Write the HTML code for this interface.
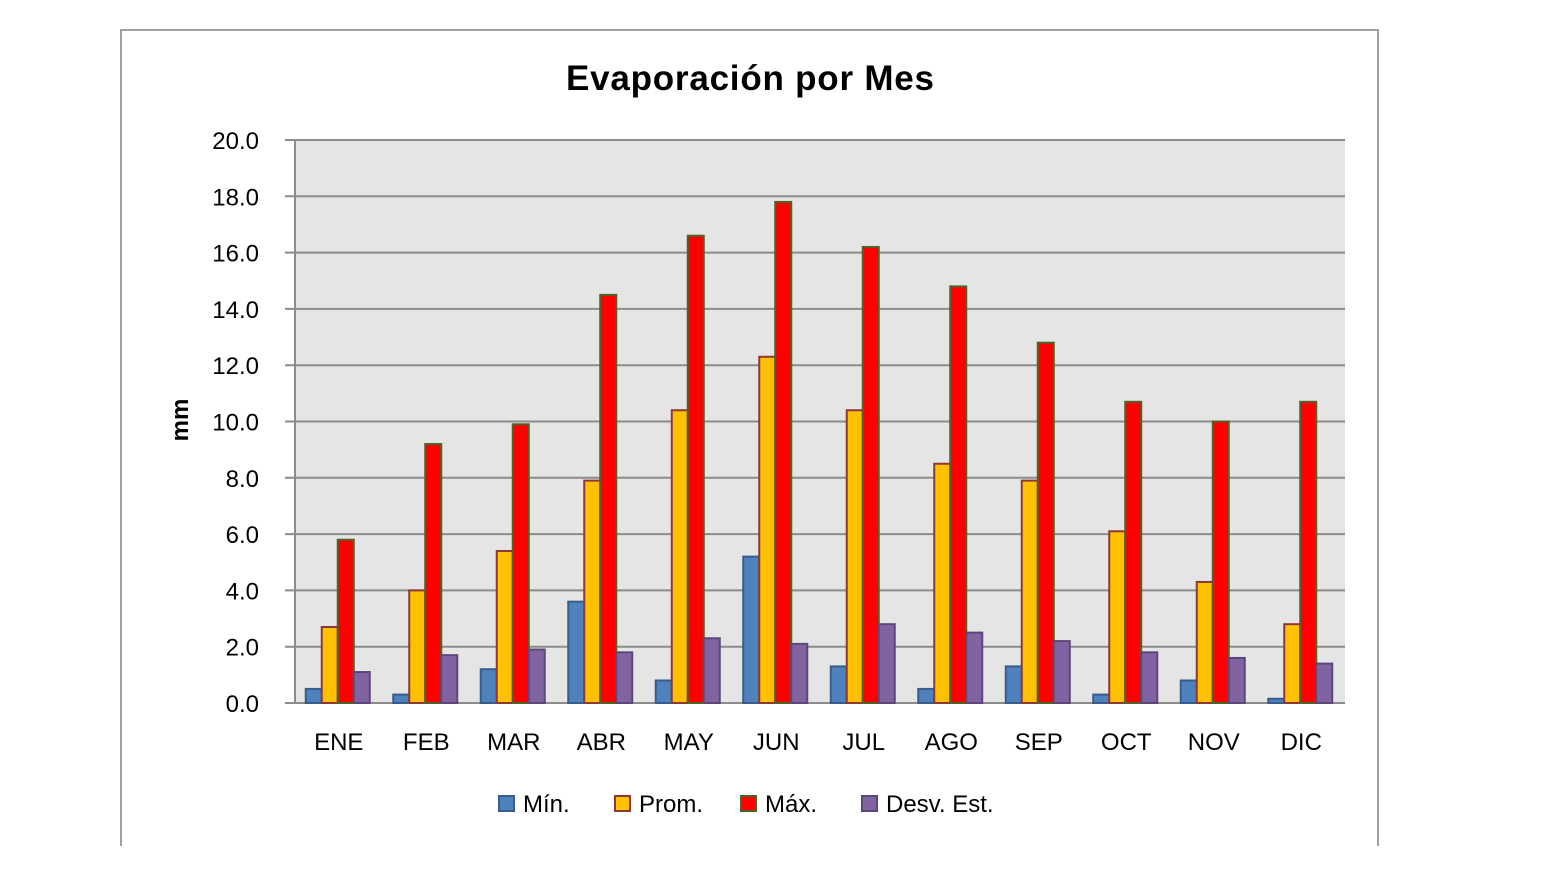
<!DOCTYPE html>
<html><head><meta charset="utf-8"><style>
html,body{margin:0;padding:0;background:#fff;width:1552px;height:878px;overflow:hidden}
svg{display:block;font-family:"Liberation Sans","DejaVu Sans",sans-serif}
</style></head><body>
<svg id="chart" width="1552" height="878">
<path d="M121,846 V30 H1378 V846" fill="none" stroke="#a0a0a0" stroke-width="2"/>
<text x="750" y="90" text-anchor="middle" font-size="35" font-weight="bold" fill="#000" textLength="368">Evaporación por Mes</text>
<rect x="295" y="140" width="1050" height="563" fill="#e5e5e5"/>
<g id="grid"></g><g id="bars"></g><g id="labels"></g>
<text transform="translate(188,420) rotate(-90)" text-anchor="middle" font-size="24" font-weight="bold">mm</text>
<g id="legend"></g>
</svg>
<script>
const months=["ENE","FEB","MAR","ABR","MAY","JUN","JUL","AGO","SEP","OCT","NOV","DIC"];
const minVals=[0.5,0.3,1.2,3.6,0.8,5.2,1.3,0.5,1.3,0.3,0.8,0.15];
const promVals=[2.7,4.0,5.4,7.9,10.4,12.3,10.4,8.5,7.9,6.1,4.3,2.8];
const maxVals=[5.8,9.2,9.9,14.5,16.6,17.8,16.2,14.8,12.8,10.7,10.0,10.7];
const desvVals=[1.1,1.7,1.9,1.8,2.3,2.1,2.8,2.5,2.2,1.8,1.6,1.4];
const yTicks=[0,2,4,6,8,10,12,14,16,18,20];
const seriesNames=["Mín.","Prom.","Máx.","Desv. Est."];
const NS="http://www.w3.org/2000/svg";
const X0=295,X1=1345,Y0=703,Y1=140;
const y=v=>Y0-(v/20)*(Y0-Y1);
const gw=(X1-X0)/months.length;
const series=[
 {vals:minVals,fill:"#4f81bd",stroke:"#385d8a",key:"min"},
 {vals:promVals,fill:"#ffc000",stroke:"#8c3836",key:"prom"},
 {vals:maxVals,fill:"#ff0000",stroke:"#4f6228",key:"max"},
 {vals:desvVals,fill:"#8064a2",stroke:"#5c4776",key:"desv"}];
function mk(t,a,p){const e=document.createElementNS(NS,t);for(const k in a)e.setAttribute(k,a[k]);p.appendChild(e);return e;}
const grid=document.getElementById('grid'),bars=document.getElementById('bars'),labels=document.getElementById('labels'),legend=document.getElementById('legend');
yTicks.forEach(t=>{
 const l=mk('line',{x1:285,x2:X1,y1:y(t),y2:y(t),stroke:"#8c8c8c","stroke-width":2},grid);
 
 
 const tx=mk('text',{x:259,y:y(t)+9,"text-anchor":"end","font-size":24},labels);
 tx.textContent=t.toFixed(1);
 
 
});
const ax=mk('line',{x1:X0,x2:X0,y1:Y1,y2:Y0,stroke:"#8c8c8c","stroke-width":2},grid);


const bw=16;
months.forEach((m,i)=>{
 const start=X0+i*gw+gw/2-2*bw-1;
 series.forEach((s,j)=>{
  const v=s.vals[i];
  const r=mk('rect',{x:start+j*bw,y:y(v),width:bw,height:Y0-y(v),fill:s.fill,stroke:s.stroke,"stroke-width":2},bars);
  
  
 });
 const t=mk('text',{x:X0+i*gw+gw/2,y:750,"text-anchor":"middle","font-size":24},labels);
 t.textContent=m;
 
 
});
const lx=[499,615,741,862];
series.forEach((s,j)=>{
 const r=mk('rect',{x:lx[j],y:796,width:15,height:15,fill:s.fill,stroke:s.stroke,"stroke-width":2},legend);
 
 
 const t=mk('text',{x:lx[j]+24,y:812,"font-size":24},legend);
 t.textContent=seriesNames[j];
 
 
});
</script>
</body></html>
